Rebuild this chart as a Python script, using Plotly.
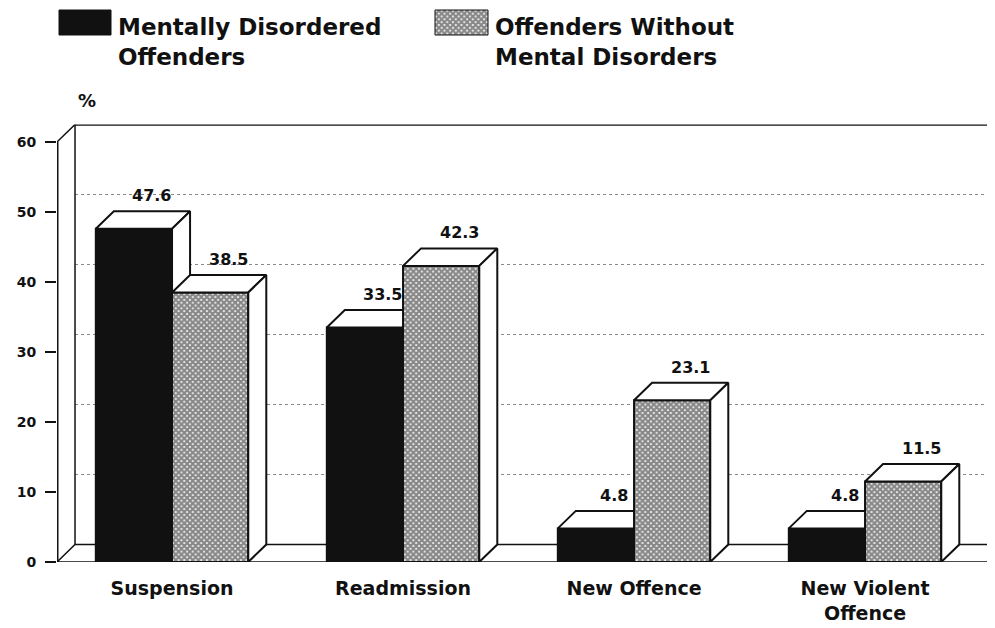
import plotly.graph_objects as go

# ---------------- data ----------------
categories = ["Suspension", "Readmission", "New Offence", "New Violent<br>Offence"]
mentally_disordered = [47.6, 33.5, 4.8, 4.8]
without_disorders = [38.5, 42.3, 23.1, 11.5]
series_names = ["Mentally Disordered<br>Offenders", "Offenders Without<br>Mental Disorders"]
y_ticks = [0, 10, 20, 30, 40, 50, 60]
y_label = "%"

# ---------------- layout constants ----------------
PAGE_PAD = 8                    # default body margin of the html page
W, H = 995 - PAGE_PAD, 628 - PAGE_PAD
ML, MR, MB, MT = 57 - PAGE_PAD, 0, 66, 0
PLOT_H = H - MT - MB
YMAX = 60
DY = 2.5                        # depth offset (y units)
DX = 0.078                      # depth offset (x units)
BAR_W = 0.33
X0 = -0.498
XMAX = X0 + (W - ML - MR) / 231.0
PX_PER_Y = 7.0
Y_DOMAIN_TOP = ((YMAX + DY) * PX_PER_Y) / PLOT_H
LEG_STRIP = 58                  # legend strip height (px from top of figure)

FONT = "DejaVu Sans"
INK = "#111111"
PATTERN = dict(shape="x", size=4, solidity=0.8, fgcolor=INK, bgcolor="white")

fig = go.Figure()


def poly(xs, ys, fill="white", pattern=None, lw=2, xa="x", ya="y", color=INK):
    kw = dict(
        x=list(xs) + [xs[0]], y=list(ys) + [ys[0]],
        mode="lines", fill="toself", fillcolor=fill,
        line=dict(color=color, width=lw),
        hoverinfo="skip", showlegend=False, xaxis=xa, yaxis=ya,
    )
    if pattern is not None:
        kw["fillpattern"] = pattern
    fig.add_trace(go.Scatter(**kw))


def line(xs, ys, lw=2, dash="solid", color=INK):
    fig.add_trace(go.Scatter(
        x=xs, y=ys, mode="lines", line=dict(color=color, width=lw, dash=dash),
        hoverinfo="skip", showlegend=False))


# back wall grid lines
for t in y_ticks[1:-1]:
    line([X0 + DX, XMAX], [t + DY, t + DY], lw=1, dash="dot", color="#8a8a8a")
# back wall top edge
line([X0 + DX, XMAX], [YMAX + DY, YMAX + DY], lw=2.5)
# left wall
line([X0 + DX, X0 + DX], [DY, YMAX + DY], lw=1.5)
line([X0, X0 + DX], [YMAX, YMAX + DY], lw=1.5)
# floor
poly([X0, XMAX, XMAX, X0 + DX], [0, 0, DY, DY], fill="white", lw=1.5)
# value axis line
line([X0, X0], [0, YMAX], lw=3)


def bar3d(xl, xr, v, fill, pattern=None):
    # front face
    poly([xl, xr, xr, xl], [0, 0, v, v], fill=fill, pattern=pattern)
    # top face
    poly([xl, xr, xr + DX, xl + DX], [v, v, v + DY, v + DY], fill="white")
    # side face
    poly([xr, xr + DX, xr + DX, xr], [0, DY, v + DY, v], fill="white")


annotations = []
for i, (a, b) in enumerate(zip(mentally_disordered, without_disorders)):
    bar3d(i - BAR_W, i, a, INK)
    bar3d(i, i + BAR_W, b, "white", PATTERN)
    for xc, v in ((i - BAR_W / 2, a), (i + BAR_W / 2, b)):
        annotations.append(dict(
            x=xc + DX, y=v + DY, xref="x", yref="y", text=f"{v:.1f}",
            showarrow=False, yanchor="bottom", yshift=4,
            font=dict(family=FONT, size=16, color=INK, weight="bold")))

# ---------------- legend (drawn in top strip, page-pixel coordinates) ----------------
LEG_SW = [(59, 111), (435, 488)]
LEG_TXT_X = [116, 493]
poly([LEG_SW[0][0], LEG_SW[0][1], LEG_SW[0][1], LEG_SW[0][0]], [10, 10, 35, 35],
     fill=INK, lw=1, xa="x2", ya="y2")
poly([LEG_SW[1][0], LEG_SW[1][1], LEG_SW[1][1], LEG_SW[1][0]], [10, 10, 35, 35],
     fill="white", pattern=PATTERN, lw=1, xa="x2", ya="y2")
for tx, name in zip(LEG_TXT_X, series_names):
    annotations.append(dict(
        x=tx, y=12, xref="x2", yref="y2", text=name, showarrow=False,
        xanchor="left", yanchor="top", align="left",
        font=dict(family=FONT, size=23, color=INK, weight="bold")))

annotations.append(dict(
    x=X0 + 0.13, y=YMAX + DY, xref="x", yref="y", text=y_label, showarrow=False,
    yanchor="bottom", yshift=12,
    font=dict(family=FONT, size=18, color=INK, weight="bold")))

fig.update_layout(
    width=W, height=H,
    margin=dict(l=ML, r=MR, t=MT, b=MB, pad=0, autoexpand=False),
    paper_bgcolor="white", plot_bgcolor="white",
    annotations=annotations,
    xaxis=dict(range=[X0, XMAX], domain=[0, 1], tickvals=list(range(len(categories))),
               ticktext=categories, ticks="", showline=False, showgrid=False,
               zeroline=False, ticklabelstandoff=13, automargin=False,
               tickfont=dict(family=FONT, size=19, color=INK, weight="bold")),
    yaxis=dict(range=[0, YMAX + DY], domain=[0, Y_DOMAIN_TOP], tickvals=y_ticks,
               ticks="outside", ticklen=11, tickwidth=2, tickcolor=INK,
               showline=False, showgrid=False, zeroline=False, ticklabelstandoff=6,
               automargin=False,
               tickfont=dict(family=FONT, size=14, color=INK, weight="bold")),
    xaxis2=dict(range=[ML + PAGE_PAD, W - MR + PAGE_PAD], domain=[0, 1], anchor="y2",
                visible=False),
    yaxis2=dict(range=[LEG_STRIP + PAGE_PAD, PAGE_PAD],
                domain=[(PLOT_H - LEG_STRIP) / PLOT_H, 1], anchor="x2", visible=False),
)

fig.write_html("out.html")
